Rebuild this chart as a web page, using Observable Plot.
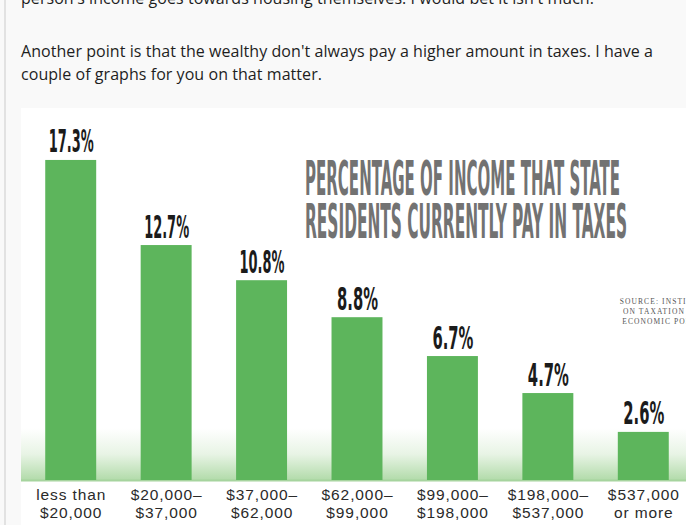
<!DOCTYPE html>
<html><head><meta charset="utf-8">
<script src="https://cdn.jsdelivr.net/npm/d3@7"></script>
<script src="https://cdn.jsdelivr.net/npm/@observablehq/plot@0.6"></script>
<style>
html,body{margin:0;padding:0;width:686px;height:525px;overflow:hidden;background:#f9f9f9;}
#rule{position:absolute;left:4px;top:0;width:2px;height:525px;background:#e2e2e2;}
.p{position:absolute;left:21px;font-family:"Open Sans";font-size:16px;line-height:24px;color:#1e1e1e;white-space:nowrap;}
#img{position:absolute;left:21px;top:108px;width:665px;height:417px;background:#fff;overflow:hidden;}
#chart{position:absolute;left:0;top:0;line-height:0;}
#chart svg{max-width:none !important;}
.title{position:absolute;left:284px;font-family:"DejaVu Sans Condensed";font-weight:bold;font-size:48px;line-height:48px;color:#727272;white-space:nowrap;transform-origin:0 0;}
#source{position:absolute;left:588px;top:189px;width:112px;text-align:center;font-family:"Liberation Serif";font-size:7.5px;line-height:10px;letter-spacing:1.1px;color:#555;white-space:nowrap;}
</style></head>
<body>
<div id="rule"></div>
<div class="p" id="l0" style="top:-14px">person's income goes towards housing themselves. I would bet it isn't much.</div>
<div class="p" id="l1" style="top:39px">Another point is that the wealthy don't always pay a higher amount in taxes. I have a</div>
<div class="p" id="l2" style="top:62px">couple of graphs for you on that matter.</div>
<div id="img">
  <div id="chart"></div>
  <span class="title" id="t1" style="top:46px">PERCENTAGE OF INCOME THAT STATE</span>
  <span class="title" id="t2" style="top:89px">RESIDENTS CURRENTLY PAY IN TAXES</span>
  <div id="source">SOURCE: INSTITUTE<br>ON TAXATION AND<br>ECONOMIC POLICY</div>
</div>
<script>
const categories = ["less than\n$20,000","$20,000–\n$37,000","$37,000–\n$62,000","$62,000–\n$99,000","$99,000–\n$198,000","$198,000–\n$537,000","$537,000\nor more"];
const rates = [17.3, 12.7, 10.8, 8.8, 6.7, 4.7, 2.6];
const rateLabels = ["17.3%","12.7%","10.8%","8.8%","6.7%","4.7%","2.6%"];
const yDomain = [0, 20];
const floorBand = [{lo: 0, hi: 2.8}];

const data = categories.map((c, i) => ({bracket: c, rate: rates[i], label: rateLabels[i]}));

const gradientDefs = () => {
  const defs = d3.create("svg:defs");
  const g = defs.append("linearGradient").attr("id", "floor").attr("x1", 0).attr("y1", 0).attr("x2", 0).attr("y2", 1);
  g.append("stop").attr("offset", "0%").attr("stop-color", "#ffffff");
  g.append("stop").attr("offset", "50%").attr("stop-color", "#e8f4e5");
  g.append("stop").attr("offset", "100%").attr("stop-color", "#b2dbaa");
  return defs.node();
};

const chart = Plot.plot({
  width: 672, height: 417,
  marginLeft: 2, marginRight: 2, marginTop: 2, marginBottom: 45,
  style: {background: "transparent", overflow: "visible", maxWidth: "none", color: "#2a2a2a", fontFamily: "Liberation Sans"},
  x: {domain: categories, paddingInner: 0.466, paddingOuter: 0.233, round: false, label: null},
  y: {domain: yDomain, axis: null},
  marks: [
    gradientDefs,
    Plot.rect(floorBand, {y1: "lo", y2: "hi", fill: "url(#floor)", insetLeft: -2}),
    Plot.ruleY([0], {stroke: "#a6d49e", strokeWidth: 2, insetLeft: -2}),
    Plot.barY(data, {x: "bracket", y: "rate", fill: "#5db55c"}),
    Plot.text(data, {x: "bracket", y: "rate", text: "label", lineAnchor: "bottom", dy: -8,
      fontFamily: "DejaVu Sans Condensed", fontWeight: "bold", fontSize: 32, fill: "#1b1b1b"}),
    Plot.axisX({tickSize: 0, tickPadding: 6, fontSize: 15.5, lineHeight: 1.19, label: null})
  ]
});
document.getElementById("chart").appendChild(chart);

d3.select(chart).selectAll('g[aria-label="x-axis tick label"]').attr("letter-spacing", "0.9");

d3.select(chart).selectAll('g[aria-label="text"] text').each(function() {
  const n = this.textContent.length;
  this.setAttribute("textLength", 25 + 4 * n);
  this.setAttribute("lengthAdjust", "spacingAndGlyphs");
});

function fit(id, target) {
  const el = document.getElementById(id);
  el.style.display = "inline-block";
  const w = el.getBoundingClientRect().width;
  el.style.transform = `scaleX(${target / w})`;
}
fit("t1", 315);
fit("t2", 322);

function spread(id, target) {
  const el = document.getElementById(id);
  el.style.display = "inline-block";
  const w = el.getBoundingClientRect().width;
  const n = el.textContent.length;
  el.style.letterSpacing = ((target - w) / n) + "px";
}
spread("l0", 573);
spread("l1", 632);
spread("l2", 301);
</script>
</body></html>
